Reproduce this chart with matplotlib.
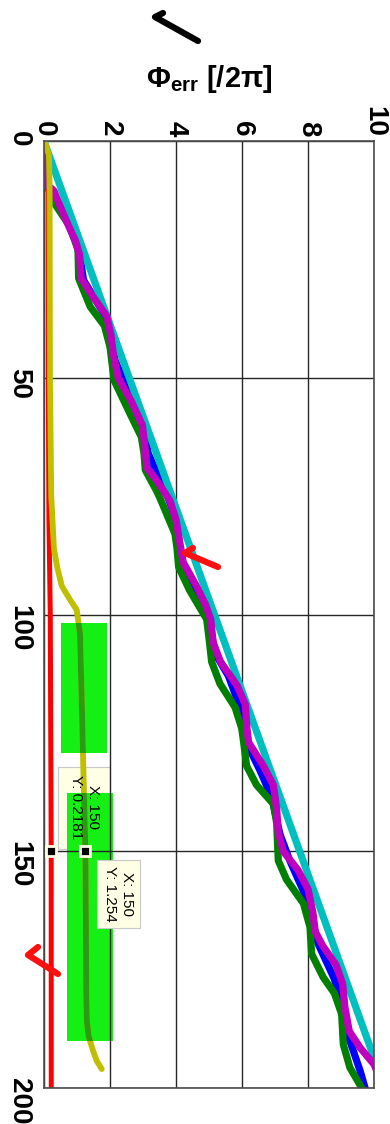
import matplotlib.pyplot as plt
from matplotlib.lines import Line2D
from matplotlib.patches import Rectangle

# distance along the run (vertical in the picture) and phase error [/2pi]
x_ideal = [0, 200]
phi_ideal = [0, 10.33]

x_blu = [0, 4, 9, 10.5, 14, 18, 22, 25, 29.4, 34, 38, 42, 46.3, 49.5, 55, 60, 66, 70, 74.5, 80,
         85, 88.6, 95, 99, 104.8, 109, 113, 119.6, 124.5, 128, 133, 138.6, 146.4, 152, 158.4, 164,
         169.6, 177, 182, 188, 196.4, 200]
phi_blu = [0, 0.02, 0.04, 0.25, 0.5, 0.77, 1.0, 1.1, 1.2, 1.6, 1.95, 2.05, 2.15, 2.35, 2.7, 3.0, 3.16,
           3.41, 3.72, 4.0, 4.1, 4.17, 4.58, 4.88, 5.08, 5.25, 5.59, 5.94, 6.09, 6.2, 6.55, 6.9, 7.15,
           7.45, 7.86, 8.11, 8.31, 8.8, 9.0, 9.17, 9.58, 9.73]

x_grn = [0, 4, 9, 11, 13, 18, 23, 29, 35, 39, 43.5, 48, 50.5, 57.5, 62.5, 66, 69.5, 74, 76, 83,
         86, 90, 95, 101, 105, 110, 114.6, 119.6, 124, 127, 132, 136, 140, 144, 152, 156, 161, 166,
         171.7, 176.6, 180, 184.4, 190.8, 195.7, 200]
phi_grn = [0, 0.02, 0.04, 0.2, 0.3, 0.78, 1.03, 1.05, 1.4, 1.83, 2.0, 2.08, 2.12, 2.6, 2.95, 3.03, 3.07,
           3.42, 3.55, 3.97, 4.03, 4.08, 4.42, 4.93, 5.0, 5.08, 5.33, 5.79, 5.99, 6.05, 6.14, 6.44,
           6.95, 7.05, 7.1, 7.35, 7.86, 8.06, 8.11, 8.46, 8.8, 9.02, 9.07, 9.27, 9.63]

x_red = [0, 2, 50, 80, 100, 150, 200]
phi_red = [0, 0.12, 0.13, 0.15, 0.19, 0.2181, 0.22]

x_mag = [0, 4, 9, 10.5, 14, 18, 21, 24, 29, 33, 37, 41, 45, 50, 55, 60, 64, 69, 72, 76,
         80, 85, 89, 94, 98, 101, 106, 110, 115, 119, 124, 127, 132, 136, 141, 146, 150, 154, 158, 163,
         167, 170, 174, 178, 183, 188, 191.5, 195, 200]
phi_mag = [0, 0.03, 0.05, 0.3, 0.5, 0.75, 0.95, 1.08, 1.12, 1.5, 1.9, 2.03, 2.1, 2.25, 2.65, 2.98, 3.05,
           3.12, 3.45, 3.82, 4.0, 4.12, 4.22, 4.62, 4.9, 5.05, 5.13, 5.35, 5.85, 6.1, 6.15, 6.2, 6.65,
           6.95, 7.05, 7.1, 7.25, 7.7, 8.0, 8.15, 8.22, 8.45, 8.85, 9.05, 9.12, 9.25, 9.58, 10.0, 10.3]

x_yel = [0, 3, 10, 50, 75, 86, 90, 94, 97, 99, 104, 120, 132, 150, 165, 180, 186, 189, 192, 194.3, 196]
phi_yel = [0.02, 0.15, 0.17, 0.18, 0.22, 0.3, 0.4, 0.54, 0.8, 0.99, 1.09, 1.15, 1.19, 1.254, 1.27, 1.28,
           1.3, 1.35, 1.48, 1.6, 1.75]

# data tips
tip_x = [150, 150]
tip_phi = [0.2181, 1.254]

# highlighter boxes (phi0, x0, phi1, x1)
hl_boxes = [(0.52, 101.7, 1.92, 129.2), (0.7, 137.8, 2.09, 190.0)]

plt.rcParams['font.family'] = ['Liberation Sans', 'DejaVu Sans']
plt.rcParams['mathtext.fontset'] = 'custom'
plt.rcParams['mathtext.rm'] = 'Liberation Sans'
plt.rcParams['mathtext.it'] = 'Liberation Sans:italic'
plt.rcParams['mathtext.bf'] = 'Liberation Sans:bold'
plt.rcParams['lines.solid_joinstyle'] = 'round'
plt.rcParams['lines.solid_capstyle'] = 'round'

W, H = 390, 1124
fig = plt.figure(figsize=(W / 100, H / 100), dpi=100)
ax = fig.add_axes([44 / W, 1 - 1088 / H, 330 / W, 947 / H])

lw = 5.2
ax.plot(phi_blu, x_blu, color='#0000ff', lw=lw)
ax.plot(phi_grn, x_grn, color='#007f00', lw=lw)
ax.plot(phi_red, x_red, color='#ff0000', lw=3.6)
ax.plot(phi_ideal, x_ideal, color='#00bfbf', lw=lw)
ax.plot(phi_mag, x_mag, color='#bf00bf', lw=lw)
ax.plot(phi_yel, x_yel, color='#bfbf00', lw=4.2)

# highlighter on top of the yellow curve
for p0, x0, p1, x1 in hl_boxes:
    r = Rectangle((p0, x0), p1 - p0, x1 - x0, fc='#14f014', ec='none', zorder=0.4)
    ax.add_patch(r)
    clip = Rectangle((p0, x0), p1 - p0, x1 - x0, transform=ax.transData)
    l, = ax.plot(phi_yel, x_yel, color='#2e9a12', lw=4.2, zorder=2.2)
    l.set_clip_path(clip)

# data tip 1 (on red curve) - box under the highlighter
ax.add_patch(Rectangle((0.42, 132.3), 1.58, 17.2, fc='#ffffe6', ec='#c8c8c8', lw=0.8, zorder=0.3))
ax.annotate('X: %g\nY: %g' % (tip_x[0], tip_phi[0]), xy=(tip_phi[0], tip_x[0]),
            xytext=(33, 44), textcoords='offset pixels', rotation=-90,
            ha='center', va='center', fontsize=11, linespacing=1.3, zorder=6)
# data tip 2 (on yellow curve)
ax.annotate('X: %g\nY: %g' % (tip_x[1], tip_phi[1]), xy=(tip_phi[1], tip_x[1]),
            xytext=(33, -43), textcoords='offset pixels', rotation=-90,
            ha='center', va='center', fontsize=11, linespacing=1.3, zorder=6,
            bbox=dict(boxstyle='square,pad=0.4', fc='#ffffe6', ec='#c8c8c8', lw=0.8))
ax.plot(tip_phi, tip_x, 's', color='k', ms=7, mec='#ffffe6', mew=2, ls='none', zorder=7)

ax.set_xlim(0, 10)
ax.set_ylim(200, 0)
ax.set_xticks(range(0, 11, 2))
ax.set_yticks(range(0, 201, 50))
ax.set_axisbelow(True)
ax.grid(True, color='0.15', lw=1.0)
for s in ax.spines.values():
    s.set_color('0.3')
    s.set_linewidth(1.2)

ax.xaxis.tick_top()
ax.xaxis.set_label_position('top')
ax.tick_params(axis='x', length=0, labelsize=20, labelrotation=-90, pad=3)
ax.tick_params(axis='y', length=0, labelsize=20, labelrotation=-90, pad=8.5)
for t in ax.get_xticklabels() + ax.get_yticklabels():
    t.set_fontweight('bold')
ax.set_xlabel(r'$\mathbf{\Phi}_{\mathbf{err}}$ [/2$\mathbf{\pi}$]', fontsize=21,
              fontweight='bold', labelpad=14)

# hand-drawn tick marks on the screenshot (figure pixels)
scribbles = [('k', [(163, 13), (155, 17), (198, 41)]),
             ('#ff1010', [(193, 548), (185, 553), (218, 567)]),
             ('#ff1010', [(38, 947), (28, 955), (58, 974)])]
for c, pts in scribbles:
    fig.add_artist(Line2D([p[0] / W for p in pts], [1 - p[1] / H for p in pts],
                          transform=fig.transFigure, color=c, lw=4.5))

fig.savefig('out.png', dpi=100)
